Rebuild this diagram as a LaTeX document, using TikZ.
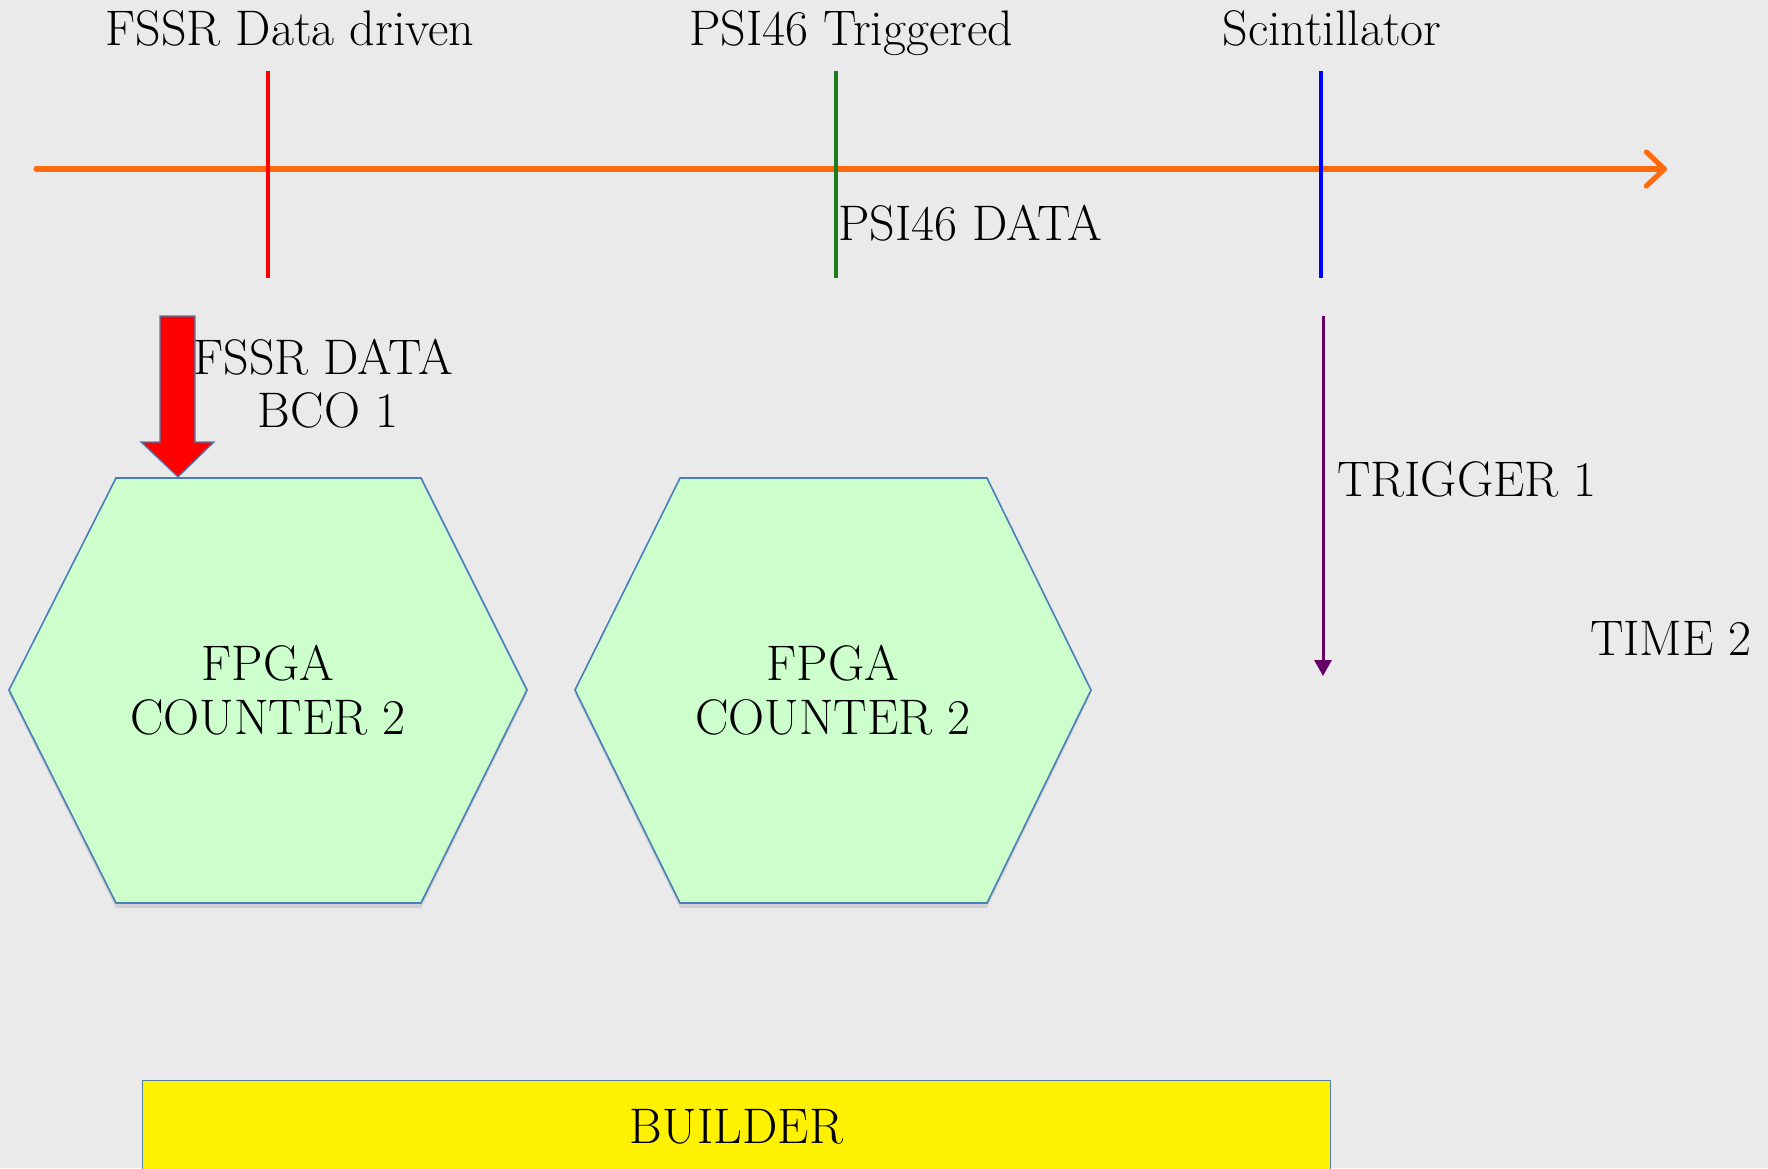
\documentclass[tikz,border=0pt]{standalone}
\usetikzlibrary{arrows.meta,calc}
\definecolor{bggray}{HTML}{EAEAEA}
\definecolor{axisorange}{HTML}{FF6A0D}
\definecolor{markgreen}{HTML}{1E7B1E}
\definecolor{edgeblue}{HTML}{4A7EBB}
\definecolor{hexfill}{HTML}{CCFFCC}
\definecolor{trigpurple}{HTML}{660066}
\begin{document}
\begin{tikzpicture}[x=0.5pt,y=-0.5pt,
  label text/.style={font=\fontsize{25}{27}\selectfont, inner sep=0pt, align=center},
  marker/.style={line width=2.4pt},
  hexagon/.style={fill=hexfill, draw=edgeblue, line width=0.8pt, line join=miter},
  hexshadow/.style={fill=black!18}]
  % canvas
  \fill[bggray] (0,0) rectangle (1768,1168);
  \useasboundingbox (0,0) rectangle (1768,1168);

  % time axis
  \coordinate (axL) at (36,169);
  \coordinate (axR) at (1667,169);
  \draw[axisorange, line width=2.6pt, line cap=round,
        -{Straight Barb[length=9pt,width=17pt,line cap=round,line join=round]}] (axL) -- (axR);

  % source markers on the axis
  \coordinate (fT) at (268,71);  \coordinate (fB) at (268,278);
  \coordinate (pT) at (836,71);  \coordinate (pB) at (836,278);
  \coordinate (sT) at (1321,71); \coordinate (sB) at (1321,278);
  \draw[marker, red] (fT) -- (fB);
  \draw[marker, markgreen] (pT) -- (pB);
  \draw[marker, blue] (sT) -- (sB);

  \node[label text, anchor=base] (tFSSR) at (290,45) {FSSR Data driven};
  \node[label text, anchor=base] (tPSI)  at (851,45) {PSI46 Triggered};
  \node[label text, anchor=base] (tScin) at (1332,45) {Scintillator};
  \node[label text] (tPSIdata) at (970,223) {PSI46 DATA};

  % FPGA counters: shadow, outline, then label
  \coordinate (h1) at (268,690);
  \coordinate (h2) at (833,690);
  \fill[hexshadow] ($(h1)+(-259,4)$) -- ($(h1)+(-152,-210)$) -- ($(h1)+(153,-210)$) --
        ($(h1)+(259,4)$) -- ($(h1)+(153,218)$) -- ($(h1)+(-152,218)$) -- cycle;
  \fill[hexshadow] ($(h2)+(-258,4)$) -- ($(h2)+(-153,-210)$) -- ($(h2)+(154,-210)$) --
        ($(h2)+(258,4)$) -- ($(h2)+(154,218)$) -- ($(h2)+(-153,218)$) -- cycle;
  \draw[hexagon] ($(h1)+(-259,0)$) -- ($(h1)+(-152,-212)$) -- ($(h1)+(153,-212)$) --
        ($(h1)+(259,0)$) -- ($(h1)+(153,213)$) -- ($(h1)+(-152,213)$) -- cycle;
  \draw[hexagon] ($(h2)+(-258,0)$) -- ($(h2)+(-153,-212)$) -- ($(h2)+(154,-212)$) --
        ($(h2)+(258,0)$) -- ($(h2)+(154,213)$) -- ($(h2)+(-153,213)$) -- cycle;
  \node[label text] (hex1) at (h1) {FPGA\\COUNTER 2};
  \node[label text] (hex2) at (h2) {FPGA\\COUNTER 2};

  % FSSR data block arrow into the first counter
  \coordinate (fa) at (178,316);
  \coordinate (fTip) at (178,477);
  \fill[red, draw=edgeblue, line width=0.6pt, line join=miter]
    ($(fa)+(-18,0)$) -- ($(fa)+(17,0)$) -- ($(fa)+(17,126)$) -- ($(fa)+(36,126)$) --
    (fTip) -- ($(fa)+(-37,126)$) -- ($(fa)+(-18,126)$) -- cycle;
  \node[label text] (tFSSRdata) at (323,357) {FSSR DATA};
  \node[label text] (tBCO) at (328,410) {BCO 1};

  % trigger from the scintillator
  \coordinate (trA) at (1323,316);
  \coordinate (trB) at (1323,676);
  \draw[trigpurple, line width=1.5pt, -{Triangle[length=8pt,width=8.5pt]}] (trA) -- (trB);
  \node[label text] (tTrig) at (1467,479) {TRIGGER 1};
  \node[label text] (tTime) at (1671,638) {TIME 2};

  % event builder
  \node[draw=edgeblue!80!gray, fill=yellow, line width=0.6pt, minimum width=594pt,
        minimum height=46pt, inner sep=0pt, anchor=north west,
        font=\fontsize{25}{27}\selectfont] (builder) at (142,1080) {BUILDER};
\end{tikzpicture}
\end{document}
